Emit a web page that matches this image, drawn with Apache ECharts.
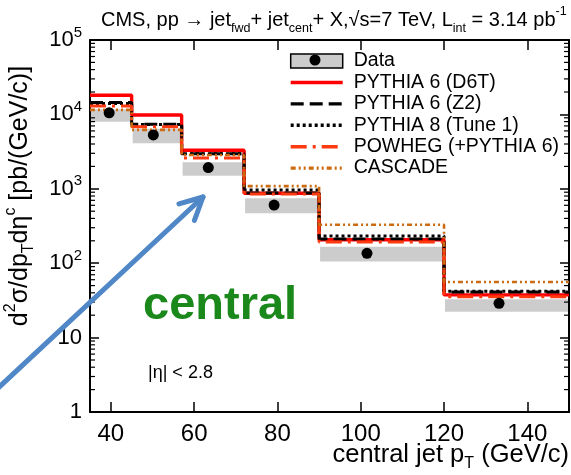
<!DOCTYPE html>
<html>
<head>
<meta charset="utf-8">
<script src="https://cdn.jsdelivr.net/npm/echarts@6/dist/echarts.min.js"></script>
<style>
html, body { margin: 0; padding: 0; background: #fff; }
#chart { width: 571px; height: 475px; }
</style>
</head>
<body>
<div id="chart"></div>
<script>
// Central-jet pT bins (GeV/c)
const binEdges = [35, 45, 57, 72, 90, 120, 150];
// Measured cross section: points and systematic band
const dataX = [39.6, 50.2, 63.4, 79.2, 101.5, 133.2];
const dataY = [10500, 5300, 1930, 605, 136, 28.9];
const sysLow = [7980, 4080, 1500, 470, 105, 22.3];
const sysHigh = [11700, 6400, 2270, 745, 167, 32.7];
// Generator predictions per bin
const pythia6D6T = [18100, 9800, 3300, 870, 207, 37.5];
const pythia6Z2 = [14500, 7400, 2950, 880, 212, 41];
const pythia8Tune1 = [14000, 7300, 2970, 965, 232, 42];
const powheg = [13000, 6800, 2600, 850, 192, 35.5];
const cascade = [11500, 6200, 2850, 1085, 328, 56];
// Axis ticks
const xTickValues = [40, 60, 80, 100, 120, 140];
const yTickLabels = ['1', '10', '10{sup|2}', '10{sup|3}', '10{sup|4}', '10{sup|5}'];

const FONT = 'Liberation Sans, Arial, Helvetica, sans-serif';
const X_MIN = binEdges[0], X_MAX = binEdges[binEdges.length - 1];
const Y_MIN = 1, Y_MAX = 1e5;

function stepData(vals) {
  const d = vals.map((v, i) => [binEdges[i], v]);
  d.push([binEdges[binEdges.length - 1], vals[vals.length - 1]]);
  return d;
}

const minorTickValues = [];
for (let e = 0; e < 5; e++) {
  for (let k = 2; k <= 9; k++) minorTickValues.push(k * Math.pow(10, e));
}

const chart = echarts.init(document.getElementById('chart'), null, { renderer: 'canvas' });

function histSeries(name, vals, color, width, type, z) {
  return {
    name: name, type: 'line', step: 'end', symbol: 'none', showSymbol: false,
    data: stepData(vals), z: z,
    lineStyle: { color: color, width: width, type: type, cap: 'butt' },
    itemStyle: { color: color },
    emphasis: { disabled: true }, animation: false
  };
}

const axisLineStyle = { color: '#000', width: 2 };
const lineNames = ['PYTHIA 6 (D6T)', 'PYTHIA 6 (Z2)', 'PYTHIA 8 (Tune 1)', 'POWHEG (+PYTHIA 6)', 'CASCADE'];

const option = {
  animation: false,
  backgroundColor: '#fff',
  title: {
    left: 96, top: 0,
    text: 'CMS, pp → jet{sub|fwd}+ jet{sub|cent}+ X,√s=7 TeV, L{sub|int} = 3.14 pb{sup|-1}',
    textStyle: {
      fontFamily: FONT, fontSize: 20, fontWeight: 'normal', color: '#000', lineHeight: 30,
      rich: {
        sub: { fontFamily: FONT, fontSize: 12.5, color: '#000', verticalAlign: 'bottom', lineHeight: 12 },
        sup: { fontFamily: FONT, fontSize: 12.5, color: '#000', verticalAlign: 'top', lineHeight: 12 }
      }
    }
  },
  grid: { left: 90, right: 2, top: 40, bottom: 63 },
  legend: {
    orient: 'vertical', left: 289, top: 51, padding: 0,
    itemWidth: 52, itemHeight: 14, itemGap: 1.2,
    lineStyle: { width: 3.4 },
    textStyle: { fontFamily: FONT, fontSize: 19.5, color: '#000', padding: [0, 0, 0, 6], lineHeight: 20.2 },
    data: [{ name: 'Data', icon: 'rect', itemStyle: { color: '#cccccc', borderColor: '#000', borderWidth: 1.5 } }]
      .concat(lineNames.map(n => ({ name: n, itemStyle: { opacity: 0 } }))),
    selectedMode: false
  },
  xAxis: [{
    type: 'value', min: X_MIN, max: X_MAX,
    axisLine: { lineStyle: axisLineStyle },
    axisTick: { inside: true, length: 10, customValues: xTickValues, lineStyle: { color: '#000', width: 1.5 } },
    axisLabel: { customValues: xTickValues, fontFamily: FONT, fontSize: 24, color: '#000', margin: 10 },
    splitLine: { show: false }
  }, {
    type: 'value', min: X_MIN, max: X_MAX, position: 'top',
    axisLine: { lineStyle: axisLineStyle },
    axisTick: { inside: true, length: 10, customValues: xTickValues, lineStyle: { color: '#000', width: 1.5 } },
    axisLabel: { show: false }, splitLine: { show: false }
  }],
  yAxis: [{
    type: 'log', logBase: 10, min: Y_MIN, max: Y_MAX,
    axisLine: { show: true, lineStyle: axisLineStyle },
    axisTick: { show: true, inside: true, length: 9, lineStyle: { color: '#000', width: 1.5 } },
    axisLabel: {
      fontFamily: FONT, fontSize: 22, color: '#000', margin: 8, lineHeight: 30,
      formatter: v => yTickLabels[Math.round(Math.log10(v))],
      rich: { sup: { fontFamily: FONT, fontSize: 15, color: '#000', verticalAlign: 'top', lineHeight: 15 } }
    },
    splitLine: { show: false }
  }, {
    type: 'log', logBase: 10, min: Y_MIN, max: Y_MAX, position: 'right',
    axisLine: { show: true, lineStyle: axisLineStyle },
    axisTick: { show: true, inside: true, length: 9, lineStyle: { color: '#000', width: 1.5 } },
    axisLabel: { show: false }, splitLine: { show: false }
  }],
  series: [
    {
      // systematic uncertainty boxes
      name: 'sys', type: 'custom', z: 1, silent: true,
      data: sysLow.map((lo, i) => [binEdges[i], binEdges[i + 1], lo, sysHigh[i]]),
      encode: { x: [0, 1], y: [2, 3] },
      renderItem: function (params, api) {
        const p0 = api.coord([api.value(0), api.value(3)]);
        const p1 = api.coord([api.value(1), api.value(2)]);
        return {
          type: 'rect',
          shape: { x: p0[0] + 1, y: p0[1], width: p1[0] - p0[0] - 2, height: p1[1] - p0[1] },
          style: { fill: '#cccccc' }
        };
      }
    },
    histSeries(lineNames[0], pythia6D6T, '#ff0000', 3.4, 'solid', 2),
    histSeries(lineNames[1], pythia6Z2, '#000000', 3, [13, 6], 3),
    histSeries(lineNames[2], pythia8Tune1, '#000000', 3, [3, 3], 4),
    histSeries(lineNames[3], powheg, '#ff3a10', 3, [16, 6, 3, 6], 5),
    histSeries(lineNames[4], cascade, '#cc6a10', 2.6, [5, 3, 2, 3, 2, 3], 6),
    {
      name: 'Data', type: 'scatter', z: 10, symbol: 'circle', symbolSize: 11,
      data: dataX.map((x, i) => [x, dataY[i]]),
      itemStyle: { color: '#000', opacity: 1 }, emphasis: { disabled: true }
    },
    {
      // minor log ticks on the left and right frame
      name: 'minorTicks', type: 'custom', z: 20, silent: true, clip: false,
      data: minorTickValues.map(v => [X_MIN, v]),
      encode: { x: 0, y: 1 },
      renderItem: function (params, api) {
        const v = api.value(1);
        const l = api.coord([X_MIN, v]);
        const r = api.coord([X_MAX, v]);
        const st = { stroke: '#000', lineWidth: 1.2 };
        return {
          type: 'group', children: [
            { type: 'line', shape: { x1: l[0], y1: l[1], x2: l[0] + 5, y2: l[1] }, style: st },
            { type: 'line', shape: { x1: r[0], y1: r[1], x2: r[0] - 5, y2: r[1] }, style: st }
          ]
        };
      }
    }
  ]
};

chart.setOption(option);

// Text annotations, legend marker dot and the pointer arrow
const tip = [203, 197], tail = [-4, 390];
const ang = Math.atan2(tail[1] - tip[1], tail[0] - tip[0]);
const headLen = 25, headSpread = 0.47;
const h1 = [tip[0] + headLen * Math.cos(ang + headSpread), tip[1] + headLen * Math.sin(ang + headSpread)];
const h2 = [tip[0] + headLen * Math.cos(ang - headSpread), tip[1] + headLen * Math.sin(ang - headSpread)];

chart.setOption({
  graphic: [
    {
      type: 'text', x: 20, y: 196, rotation: Math.PI / 2,
      style: {
        text: 'd{sup|2}σ/dp{sub|T}dη{sup|c} [pb/(GeV/c)]',
        x: 0, y: 0, align: 'center', verticalAlign: 'middle',
        fill: '#000', font: '25px ' + FONT, lineHeight: 34,
        rich: {
          sup: { fontSize: 16, fontFamily: FONT, verticalAlign: 'top', lineHeight: 16, fill: '#000' },
          sub: { fontSize: 16, fontFamily: FONT, verticalAlign: 'bottom', lineHeight: 16, fill: '#000' }
        }
      }
    },
    {
      type: 'text', x: 569, y: 455,
      style: {
        text: 'central jet p{sub|T} (GeV/c)', align: 'right', verticalAlign: 'middle',
        fill: '#000', font: '25.5px ' + FONT, lineHeight: 34,
        rich: { sub: { fontSize: 16, fontFamily: FONT, verticalAlign: 'bottom', lineHeight: 16, fill: '#000' } }
      }
    },
    {
      type: 'text', x: 143, y: 306,
      style: { text: 'central', align: 'left', verticalAlign: 'middle', fill: '#1a881a', font: 'bold 47px ' + FONT }
    },
    {
      type: 'text', x: 148, y: 373,
      style: { text: '|η| < 2.8', align: 'left', verticalAlign: 'middle', fill: '#000', font: '18px ' + FONT }
    },
    {
      type: 'circle', shape: { cx: 315, cy: 60, r: 5.5 }, style: { fill: '#000' }, z: 100
    },
    {
      type: 'line', shape: { x1: tail[0], y1: tail[1], x2: tip[0], y2: tip[1] },
      style: { stroke: '#4f87c7', lineWidth: 5, lineCap: 'round' }, z: 100
    },
    {
      type: 'polyline', shape: { points: [h1, tip, h2] },
      style: { stroke: '#4f87c7', lineWidth: 5, lineCap: 'round', lineJoin: 'round', fill: null }, z: 100
    }
  ]
});
</script>
</body>
</html>
